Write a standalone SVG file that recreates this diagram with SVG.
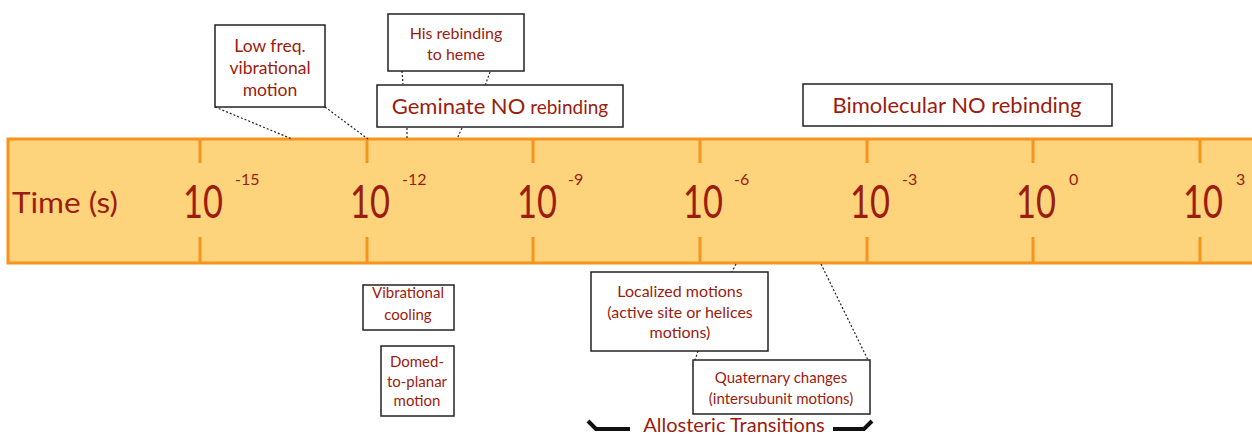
<svg xmlns="http://www.w3.org/2000/svg" width="1252" height="435" viewBox="0 0 1252 435">
<style>
.t{font-family:Lato,"Liberation Sans",sans-serif;fill:#9C1C0E;text-anchor:middle}
.box{fill:#fff;stroke:#222;stroke-width:1.5}
.tick{stroke:#F7941E;stroke-width:3}
.big{font-family:Lato,"Liberation Sans",sans-serif;fill:#9C1C0E;font-size:46px}
.sup{font-family:Lato,"Liberation Sans",sans-serif;fill:#9C1C0E;font-size:16px}
.dot{stroke:#222;stroke-width:1.2;stroke-dasharray:2 2;fill:none}
.br{stroke:#111;stroke-width:4;fill:none}
</style>
<g id="axis">
<rect x="8" y="139" width="1262" height="124" fill="#FDD37C" stroke="#F7941E" stroke-width="3"/>
<path class="tick" d="M200 139V163M200 237V263M367 139V163M367 237V263M533 139V163M533 237V263M700 139V163M700 237V263M867 139V163M867 237V263M1033 139V163M1033 237V263M1200 139V163M1200 237V263"/>
<text x="12" y="213" font-family="Lato,'Liberation Sans',sans-serif" font-size="28" fill="#9C1C0E" textLength="106" lengthAdjust="spacingAndGlyphs">Time (s)</text>
<text class="big" x="183" y="218" textLength="40" lengthAdjust="spacingAndGlyphs">10</text>
<text class="sup" x="235" y="185">-15</text>
<text class="big" x="350" y="218" textLength="40" lengthAdjust="spacingAndGlyphs">10</text>
<text class="sup" x="402" y="185">-12</text>
<text class="big" x="517" y="218" textLength="40" lengthAdjust="spacingAndGlyphs">10</text>
<text class="sup" x="568" y="185">-9</text>
<text class="big" x="683" y="218" textLength="40" lengthAdjust="spacingAndGlyphs">10</text>
<text class="sup" x="734" y="185">-6</text>
<text class="big" x="850" y="218" textLength="40" lengthAdjust="spacingAndGlyphs">10</text>
<text class="sup" x="902" y="185">-3</text>
<text class="big" x="1016" y="218" textLength="40" lengthAdjust="spacingAndGlyphs">10</text>
<text class="sup" x="1069" y="185">0</text>
<text class="big" x="1183" y="218" textLength="40" lengthAdjust="spacingAndGlyphs">10</text>
<text class="sup" x="1236" y="185">3</text>
</g>
<g id="connectors">
<path class="dot" d="M215 107L292 139M325 107L368 139"/>
<path class="dot" d="M402 71L403 84M490 72L485 86"/>
<path class="dot" d="M407 128L407 139M462 128L457 139"/>
<path class="dot" d="M736 264L732 272M821 264L868 360M698 351L695 360"/>
</g>
<g id="lowfreq">
<rect class="box" x="215" y="25" width="110" height="82"/>
<text class="t" font-size="17.5"><tspan x="270" y="52">Low freq.</tspan><tspan x="270" y="74">vibrational</tspan><tspan x="270" y="96">motion</tspan></text>
</g>
<g id="his">
<rect class="box" x="388" y="14" width="136" height="57"/>
<text class="t" font-size="16"><tspan x="456" y="39">His rebinding</tspan><tspan x="456" y="60">to heme</tspan></text>
</g>
<g id="geminate">
<rect class="box" x="377" y="85" width="246" height="42"/>
<text class="t" x="500" y="114"><tspan font-size="22">Geminate NO</tspan><tspan font-size="19"> rebinding</tspan></text>
</g>
<g id="bimolecular">
<rect class="box" x="803" y="84" width="309" height="42"/>
<text class="t" x="957" y="113" font-size="22">Bimolecular NO rebinding</text>
</g>
<g id="vibcool">
<rect class="box" x="363" y="285" width="91" height="45"/>
<text class="t" font-size="15"><tspan x="408" y="298">Vibrational</tspan><tspan x="408" y="320">cooling</tspan></text>
</g>
<g id="domed">
<rect class="box" x="381" y="346" width="73" height="70"/>
<text class="t" font-size="15"><tspan x="417" y="367">Domed-</tspan><tspan x="417" y="387">to-planar</tspan><tspan x="417" y="406">motion</tspan></text>
</g>
<g id="localized">
<rect class="box" x="591" y="272" width="177" height="79"/>
<text class="t" font-size="16"><tspan x="680" y="297">Localized motions</tspan><tspan x="680" y="318">(active site or helices</tspan><tspan x="680" y="338">motions)</tspan></text>
</g>
<g id="quaternary">
<rect class="box" x="693" y="360" width="177" height="54"/>
<text class="t" font-size="15"><tspan x="781" y="383">Quaternary changes</tspan><tspan x="781" y="404">(intersubunit motions)</tspan></text>
</g>
<g id="allosteric">
<path class="br" d="M588 421L596 429H630M833 429H864L872 421"/>
<text class="t" x="734" y="432" font-size="20">Allosteric Transitions</text>
</g>
</svg>
